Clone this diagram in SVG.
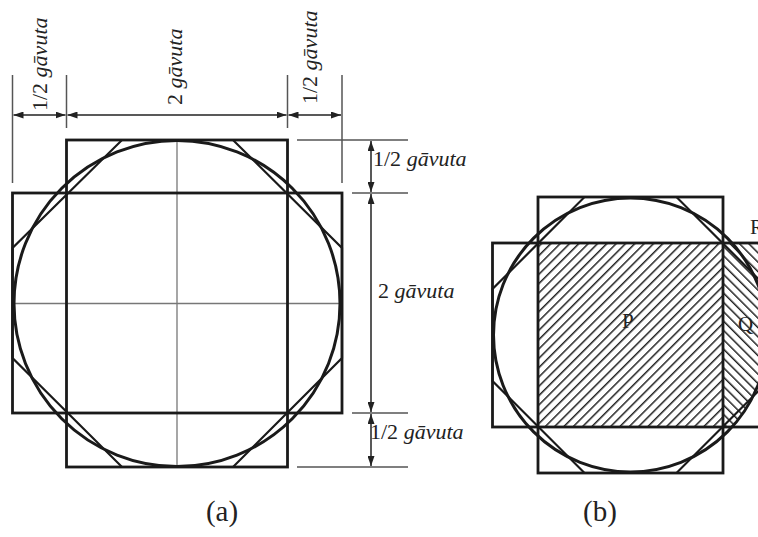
<svg xmlns="http://www.w3.org/2000/svg" width="758" height="537" viewBox="0 0 758 537">
<style>
.thick{fill:none;stroke:#1a1a1a;stroke-width:2.8}
.circ{fill:none;stroke:#1a1a1a;stroke-width:3}
.oct{fill:none;stroke:#1a1a1a;stroke-width:2.2;stroke-linejoin:miter}
.grid{fill:none;stroke:#777;stroke-width:1.3}
.ext{fill:none;stroke:#555;stroke-width:1.5}
.dim{fill:none;stroke:#222;stroke-width:1.5;marker-start:url(#arr);marker-end:url(#arr)}
.lbl{font-family:"Liberation Serif","Times New Roman",serif;font-size:22px;fill:#222}
.it{font-style:italic}
.cap{font-family:"Liberation Serif","Times New Roman",serif;font-size:29px;fill:#222;text-anchor:middle}
.let{font-family:"Liberation Serif","Times New Roman",serif;font-size:21px;fill:#222}
</style>
<defs>
<marker id="arr" markerUnits="userSpaceOnUse" markerWidth="10" markerHeight="7" refX="10" refY="3.5" orient="auto-start-reverse">
<path d="M0,0 L10,3.5 L0,7 z" fill="#222"/>
</marker>
<pattern id="hatchP" patternUnits="userSpaceOnUse" width="6.6" height="6.6" patternTransform="rotate(45)">
<line x1="0" y1="0" x2="0" y2="6.6" stroke="#222" stroke-width="3"/>
</pattern>
<pattern id="hatchQ" patternUnits="userSpaceOnUse" width="6.6" height="6.6" patternTransform="rotate(-45)">
<line x1="0" y1="0" x2="0" y2="6.6" stroke="#222" stroke-width="3"/>
</pattern>
<clipPath id="clipQ">
<circle cx="630.5" cy="335" r="137"/>
<rect x="723" y="243" width="40" height="46"/>
</clipPath>
</defs>
<rect width="758" height="537" fill="#fff"/>

<g id="figure-a">
<line class="grid" x1="177" y1="140" x2="177" y2="467"/>
<line class="grid" x1="12.5" y1="303.5" x2="342" y2="303.5"/>
<rect id="a-tall" class="thick" x="66.5" y="140" width="221" height="327"/>
<rect id="a-wide" class="thick" x="12.5" y="193" width="329.5" height="220"/>
<polygon id="a-octagon" class="oct" points="122,140 233,140 342,248 342,358 233,467 122,467 12.5,358 12.5,248"/>
<circle id="a-circle" class="circ" cx="177" cy="303.5" r="163"/>
</g>

<g id="connectors">
<line class="ext" x1="12.5" y1="75" x2="12.5" y2="183"/>
<line class="ext" x1="66.5" y1="75" x2="66.5" y2="128"/>
<line class="ext" x1="287.5" y1="75" x2="287.5" y2="128"/>
<line class="ext" x1="342" y1="75" x2="342" y2="183"/>
<line class="dim" x1="13.5" y1="115" x2="65.5" y2="115"/>
<line class="dim" x1="67.5" y1="115" x2="286.5" y2="115"/>
<line class="dim" x1="288.5" y1="115" x2="341" y2="115"/>
<line class="ext" x1="297" y1="140" x2="408" y2="140"/>
<line class="ext" x1="352" y1="193" x2="408" y2="193"/>
<line class="ext" x1="352" y1="413" x2="408" y2="413"/>
<line class="ext" x1="297" y1="467" x2="408" y2="467"/>
<line class="dim" x1="371" y1="141" x2="371" y2="192"/>
<line class="dim" x1="371" y1="194" x2="371" y2="412"/>
<line class="dim" x1="371" y1="414" x2="371" y2="466"/>
</g>

<g id="labels-a">
<text class="lbl" transform="translate(47,111) rotate(-90)">1/2 <tspan class="it">gāvuta</tspan></text>
<text class="lbl" transform="translate(182,105) rotate(-90)">2 <tspan class="it">gāvuta</tspan></text>
<text class="lbl" transform="translate(317,104) rotate(-90)">1/2 <tspan class="it">gāvuta</tspan></text>
<text class="lbl" x="373" y="166">1/2 <tspan class="it">gāvuta</tspan></text>
<text class="lbl" x="378" y="298">2 <tspan class="it">gāvuta</tspan></text>
<text class="lbl" x="370" y="439">1/2 <tspan class="it">gāvuta</tspan></text>
<text class="cap" x="222" y="521">(a)</text>
</g>

<g id="figure-b">
<rect id="b-P-hatch" x="538" y="243" width="185" height="184" fill="url(#hatchP)"/>
<rect id="b-Q-hatch" x="723" y="243" width="40" height="184" fill="url(#hatchQ)" clip-path="url(#clipQ)"/>
<rect id="b-tall" class="thick" x="538" y="197" width="185" height="276"/>
<rect id="b-wide" class="thick" x="492.5" y="243" width="276" height="184"/>
<polygon id="b-octagon" class="oct" points="584.5,197 676.5,197 768.5,289 768.5,381 676.5,473 584.5,473 492.5,381 492.5,289"/>
<circle id="b-circle" class="circ" cx="630.5" cy="335" r="137"/>
</g>

<g id="labels-b">
<text class="let" x="622" y="328">P</text>
<text class="let" x="738" y="331">Q</text>
<text class="let" x="750" y="234">R</text>
<text class="cap" x="600" y="521">(b)</text>
</g>
</svg>
